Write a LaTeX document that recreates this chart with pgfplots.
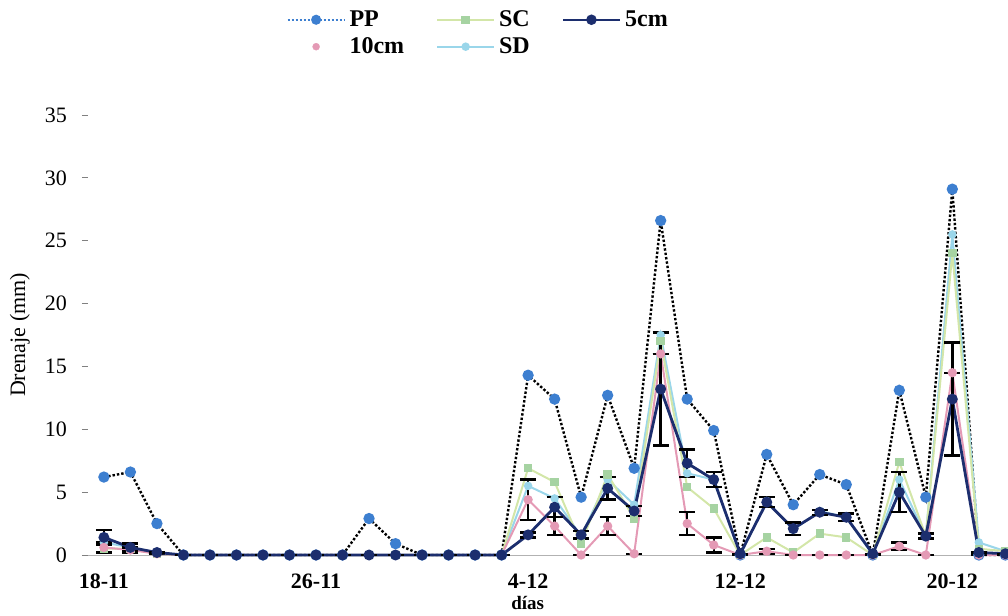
\documentclass[border=0pt]{standalone}
\usepackage{pgfplots}
\pgfplotsset{compat=1.18}
\usepackage{fontspec}
\setmainfont{Liberation Serif}

\definecolor{ppblue}{HTML}{3D7FD0}
\definecolor{scline}{HTML}{D3E6A8}
\definecolor{scmark}{HTML}{A6D3A2}
\definecolor{navy5}{HTML}{1C2E6E}
\definecolor{pink10}{HTML}{E49AB5}
\definecolor{sdcyan}{HTML}{9AD6EA}

\begin{document}
\begin{tikzpicture}
\begin{axis}[
    scale only axis,
    width=460pt, height=220pt,
    at={(0,0)}, anchor=south west,
    xmin=-0.6, xmax=34.1,
    ymin=0, ymax=35,
    xtick={0,8,16,24,32},
    xticklabels={18-11,26-11,4-12,12-12,20-12},
    ytick={0,5,...,35},
    axis x line*=bottom, axis y line*=left,
    x axis line style={gray!60, -},
    y axis line style={draw=none},
    xtick style={draw=none},
    ytick style={black!50, line width=0.4pt},
    tick align=outside, major tick length=3pt,
    /pgf/number format/assume math mode=true,
    yticklabel style={font=\fontsize{11}{13}\selectfont, xshift=-4pt},
    xticklabel style={font=\bfseries\fontsize{11}{13}\selectfont, yshift=-3pt},
    every axis y label/.style={at={(axis description cs:-0.074,0.5)}, rotate=90, anchor=center, font=\fontsize{11}{13}\selectfont},
    every axis x label/.style={at={(axis description cs:0.478,-0.108)}, anchor=center, font=\bfseries\fontsize{9.5}{11}\selectfont},
    ylabel={Drenaje (mm)},
    xlabel={días},
    clip=false,
    legend columns=3,
    legend cell align=left,
    legend style={draw=none, fill=none, at={(0.209,1.257)}, anchor=north west,
        font=\bfseries\fontsize{12}{14}\selectfont,
        /tikz/every even column/.append style={column sep=14pt}},
    legend image code/.code={\draw[mark repeat=2,mark phase=2,#1] plot coordinates {(0cm,0cm) (0.5cm,0cm) (1.0cm,0cm)};},
    errbar/.style={error bars/.cd, y dir=both, y explicit,
        error bar style={black, line width=1.2pt},
        error mark options={black, rotate=90, line width=1.2pt, mark size=4pt}},
]

% legend entries first, in the order of the original
\addlegendimage{ppblue, densely dotted, line width=1pt, mark=*, mark options={solid, mark size=2pt}}
\addlegendentry{PP}
\addlegendimage{scline, line width=1pt, mark=square*, mark options={scmark, mark size=1.6pt}}
\addlegendentry{SC}
\addlegendimage{navy5, line width=1.2pt, mark=*, mark options={mark size=2pt}}
\addlegendentry{5cm}
\addlegendimage{white, line width=0.1pt, mark=*, mark options={pink10, mark size=1.8pt}}
\addlegendentry{10cm}
\addlegendimage{sdcyan, line width=1pt, mark=*, mark options={mark size=1.6pt}}
\addlegendentry{SD}

% PP
\addplot [forget plot, black, densely dotted, line width=1.2pt, mark=*, mark options={solid, ppblue, mark size=2.2pt}]
coordinates {
(0,6.2) (1,6.6) (2,2.5) (3,0) (4,0) (5,0) (6,0) (7,0) (8,0) (9,0)
(10,2.9) (11,0.9) (12,0) (13,0) (14,0) (15,0) (16,14.3) (17,12.4) (18,4.6) (19,12.7)
(20,6.9) (21,26.6) (22,12.4) (23,9.9) (24,0) (25,8.0) (26,4.0) (27,6.4) (28,5.6) (29,0)
(30,13.1) (31,4.6) (32,29.1) (33,0) (34,0)
};

% SD
\addplot [forget plot, sdcyan, line width=1pt, mark=*, mark options={mark size=1.6pt}]
coordinates {
(0,1.0) (1,0.6) (2,0.2) (3,0) (4,0) (5,0) (6,0) (7,0) (8,0) (9,0)
(10,0) (11,0) (12,0) (13,0) (14,0) (15,0) (16,5.5) (17,4.5) (18,1.5) (19,6.0)
(20,4.0) (21,17.5) (22,6.5) (23,6.0) (24,0) (25,4.3) (26,2.0) (27,3.5) (28,3.0) (29,0)
(30,6.0) (31,1.5) (32,25.5) (33,1.0) (34,0.3)
};

% SC
\addplot [forget plot, scline, line width=1pt, mark=square*, mark options={scmark, mark size=1.6pt}]
coordinates {
(0,0.5) (1,0.5) (2,0.1) (3,0) (4,0) (5,0) (6,0) (7,0) (8,0) (9,0)
(10,0) (11,0) (12,0) (13,0) (14,0) (15,0) (16,6.9) (17,5.8) (18,0.9) (19,6.4)
(20,2.9) (21,17.0) (22,5.4) (23,3.7) (24,0) (25,1.4) (26,0.2) (27,1.7) (28,1.4) (29,0)
(30,7.4) (31,1.5) (32,24.0) (33,0.5) (34,0.3)
};

% 10cm
\addplot [forget plot, pink10, line width=1pt, mark=*, mark options={mark size=1.8pt}, errbar]
coordinates {
(0,0.6) +- (0,0.4) (1,0.4) +- (0,0.2) (2,0.1) +- (0,0) (3,0) +- (0,0) (4,0) +- (0,0)
(5,0) +- (0,0) (6,0) +- (0,0) (7,0) +- (0,0) (8,0) +- (0,0) (9,0) +- (0,0)
(10,0) +- (0,0) (11,0) +- (0,0) (12,0) +- (0,0) (13,0) +- (0,0) (14,0) +- (0,0)
(15,0) +- (0,0) (16,4.4) +- (0,1.6) (17,2.3) +- (0,0.7) (18,0) +- (0,0) (19,2.3) +- (0,0.7)
(20,0.1) +- (0,0) (21,16.0) +- (0,0) (22,2.5) +- (0,0.9) (23,0.8) +- (0,0.6) (24,0) +- (0,0)
(25,0.3) +- (0,0.2) (26,0) +- (0,0) (27,0) +- (0,0) (28,0) +- (0,0) (29,0) +- (0,0)
(30,0.7) +- (0,0.3) (31,0) +- (0,0) (32,14.5) +- (0,0) (33,0) +- (0,0) (34,0) +- (0,0)
};

% 5cm
\addplot [forget plot, navy5, line width=1.4pt, mark=*, mark options={mark size=2pt}, errbar]
coordinates {
(0,1.4) +- (0,0.6) (1,0.6) +- (0,0.3) (2,0.2) +- (0,0) (3,0) +- (0,0) (4,0) +- (0,0)
(5,0) +- (0,0) (6,0) +- (0,0) (7,0) +- (0,0) (8,0) +- (0,0) (9,0) +- (0,0)
(10,0) +- (0,0) (11,0) +- (0,0) (12,0) +- (0,0) (13,0) +- (0,0) (14,0) +- (0,0)
(15,0) +- (0,0) (16,1.6) +- (0,0.2) (17,3.8) +- (0,0.8) (18,1.6) +- (0,0.3) (19,5.3) +- (0,0.9)
(20,3.5) +- (0,0.4) (21,13.2) +- (0,4.5) (22,7.3) +- (0,1.1) (23,6.0) +- (0,0.6) (24,0.1) +- (0,0)
(25,4.2) +- (0,0.4) (26,2.1) +- (0,0.5) (27,3.4) +- (0,0.2) (28,3.0) +- (0,0.3) (29,0.1) +- (0,0)
(30,5.0) +- (0,1.6) (31,1.5) +- (0,0.2) (32,12.4) +- (0,4.5) (33,0.2) +- (0,0) (34,0.1) +- (0,0)
};

\end{axis}
\pgfresetboundingbox
\path[use as bounding box] (-44pt,-30.5pt) rectangle (460pt,277.5pt);
\end{tikzpicture}
\end{document}
